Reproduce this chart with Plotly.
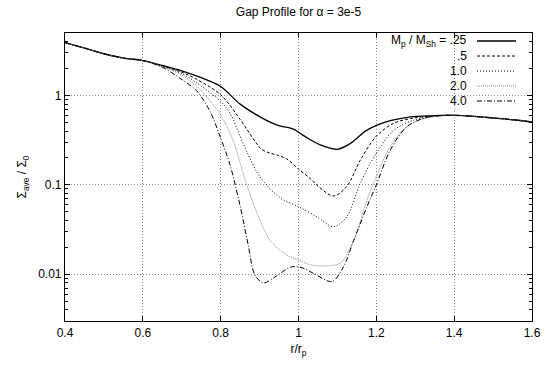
import plotly.graph_objects as go

# ---------------- data ----------------
x_common = [0.40, 0.45, 0.50, 0.55, 0.60]
y_common = [3.9, 3.39, 2.93, 2.62, 2.46]

x_tail = [1.40, 1.45, 1.50, 1.55, 1.60]
y_tail = [0.60, 0.585, 0.56, 0.535, 0.505]

labels = [".25", ".5", "1.0", "2.0", "4.0"]

x_025 = [0.65, 0.70, 0.75, 0.80, 0.85, 0.90, 0.94, 0.96, 0.975, 0.99, 1.005, 1.025, 1.056, 1.10, 1.133, 1.176, 1.227, 1.28, 1.33, 1.365]
y_025 = [2.17, 1.89, 1.58, 1.26, 0.80, 0.58, 0.475, 0.447, 0.438, 0.415, 0.375, 0.33, 0.28, 0.25, 0.29, 0.41, 0.51, 0.57, 0.59, 0.60]

x_05 = [0.65, 0.70, 0.738, 0.80, 0.85, 0.89, 0.905, 0.925, 0.945, 0.97, 1.00, 1.029, 1.05, 1.09, 1.124, 1.159, 1.20, 1.245, 1.296, 1.35]
y_05 = [2.14, 1.82, 1.52, 1.02, 0.54, 0.30, 0.25, 0.228, 0.215, 0.195, 0.15, 0.119, 0.097, 0.075, 0.096, 0.19, 0.35, 0.49, 0.56, 0.59]

x_10 = [0.65, 0.70, 0.738, 0.80, 0.824, 0.85, 0.867, 0.90, 0.952, 1.00, 1.047, 1.09, 1.124, 1.159, 1.20, 1.245, 1.296, 1.35]
y_10 = [2.12, 1.76, 1.39, 0.857, 0.634, 0.35, 0.236, 0.125, 0.072, 0.057, 0.044, 0.034, 0.044, 0.105, 0.226, 0.41, 0.53, 0.585]

x_20 = [0.65, 0.70, 0.738, 0.781, 0.80, 0.833, 0.85, 0.867, 0.892, 0.927, 0.969, 1.00, 1.029, 1.064, 1.107, 1.142, 1.176, 1.20, 1.236, 1.279, 1.33]
y_20 = [2.10, 1.69, 1.28, 0.787, 0.608, 0.306, 0.175, 0.10, 0.05, 0.024, 0.0165, 0.0145, 0.0128, 0.0124, 0.0133, 0.024, 0.068, 0.124, 0.27, 0.45, 0.56]

x_40 = [0.65, 0.696, 0.738, 0.773, 0.80, 0.824, 0.85, 0.871, 0.888, 0.91, 0.944, 0.975, 0.99, 1.01, 1.039, 1.086, 1.116, 1.142, 1.176, 1.20, 1.236, 1.279, 1.33]
y_40 = [2.07, 1.55, 1.13, 0.66, 0.333, 0.168, 0.058, 0.021, 0.0098, 0.008, 0.0096, 0.0118, 0.0122, 0.0118, 0.0102, 0.0083, 0.0122, 0.024, 0.057, 0.10, 0.246, 0.45, 0.57]

series_x = [x_025, x_05, x_10, x_20, x_40]
series_y = [y_025, y_05, y_10, y_20, y_40]

x_ticks = [0.4, 0.6, 0.8, 1.0, 1.2, 1.4, 1.6]
y_tickvals = [0.01, 0.1, 1]

# ---------------- styles ----------------
styles = [
    dict(color="black", width=1.3, dash="solid"),
    dict(color="black", width=1.0, dash="3px,2px"),
    dict(color="black", width=1.0, dash="1px,2px"),
    dict(color="#888888", width=1.0, dash="1px,1px"),
    dict(color="black", width=1.0, dash="5px,2px,1px,2px"),
]

fig = go.Figure()
for xs, ys, lab, st in zip(series_x, series_y, labels, styles):
    fx = x_common + xs + x_tail
    fy = y_common + ys + y_tail
    fig.add_trace(go.Scatter(x=fx, y=fy, mode="lines", name=lab,
                             line=dict(shape="spline", smoothing=0.9, **st),
                             showlegend=False, hoverinfo="skip"))

FONT = "Liberation Sans, Arial, sans-serif"
L, R, T, B = 65, 12, 33, 44
W, H = 544, 365
pw, ph = W - L - R, H - T - B

def px2paper_x(px):
    return (px - L) / pw

def py2paper_y(py):
    return 1 - (py - T) / ph

GRID = "#8a8a8a"
shapes = []
# opaque key area (hides grid under the key)
shapes.append(dict(type="rect", xref="paper", yref="paper", layer="between",
                   x0=px2paper_x(361), x1=1, y0=py2paper_y(106), y1=1,
                   fillcolor="white", line=dict(width=0)))

annotations = []
row_y = [41, 56, 71, 86, 101]
key_text = ["M<sub>p</sub> / M<sub>Sh</sub> = .25", ".5", "1.0", "2.0", "4.0"]
for ry, txt, st in zip(row_y, key_text, styles):
    annotations.append(dict(xref="paper", yref="paper", x=px2paper_x(469), y=py2paper_y(ry),
                            xanchor="right", yanchor="middle", text=txt, showarrow=False,
                            font=dict(family=FONT, size=12, color="black")))
    shapes.append(dict(type="line", xref="paper", yref="paper",
                       x0=px2paper_x(477), x1=px2paper_x(516),
                       y0=py2paper_y(ry), y1=py2paper_y(ry),
                       line=dict(color=st["color"], width=st["width"], dash=st["dash"])))

fig.update_layout(
    template="none",
    width=W, height=H,
    margin=dict(l=L, r=R, t=T, b=B, pad=0),
    paper_bgcolor="white", plot_bgcolor="white",
    font=dict(family=FONT, size=12, color="black"),
    title=dict(text="Gap Profile for α = 3e-5", x=(L + pw / 2) / W, xanchor="center",
               y=1 - 12 / H, yanchor="middle", yref="container",
               font=dict(family=FONT, size=12, color="black")),
    shapes=shapes,
    annotations=annotations,
)

fig.update_xaxes(
    automargin=False,
    range=[0.4, 1.6], tickvals=x_ticks,
    showline=True, linecolor="black", linewidth=1.2, mirror="ticks",
    ticks="inside", ticklen=5, tickcolor="black",
    showgrid=True, gridcolor=GRID, griddash="1px,2px", gridwidth=1,
    zeroline=False,
    title=dict(text="r/r<sub>p</sub>", standoff=6, font=dict(family=FONT, size=12)),
    tickfont=dict(family=FONT, size=12),
)

fig.update_yaxes(
    automargin=False,
    type="log", range=[-2.523, 0.699],
    tickvals=y_tickvals,
    showline=True, linecolor="black", linewidth=1.2, mirror="ticks",
    ticks="inside", ticklen=5, tickcolor="black",
    minor=dict(ticks="inside", ticklen=3, tickcolor="black", showgrid=False,
               tickvals=[0.004, 0.005, 0.006, 0.007, 0.008, 0.009,
                         0.02, 0.03, 0.04, 0.05, 0.06, 0.07, 0.08, 0.09,
                         0.2, 0.3, 0.4, 0.5, 0.6, 0.7, 0.8, 0.9,
                         2, 3, 4]),
    showgrid=True, gridcolor=GRID, griddash="1px,2px", gridwidth=1,
    zeroline=False,
    title=dict(text="Σ<sub>ave</sub> / Σ<sub>0</sub>", standoff=8, font=dict(family=FONT, size=12)),
    tickfont=dict(family=FONT, size=12),
)

fig.write_html("out.html", config={"displayModeBar": False},
               post_script="document.body.style.margin='0';")
